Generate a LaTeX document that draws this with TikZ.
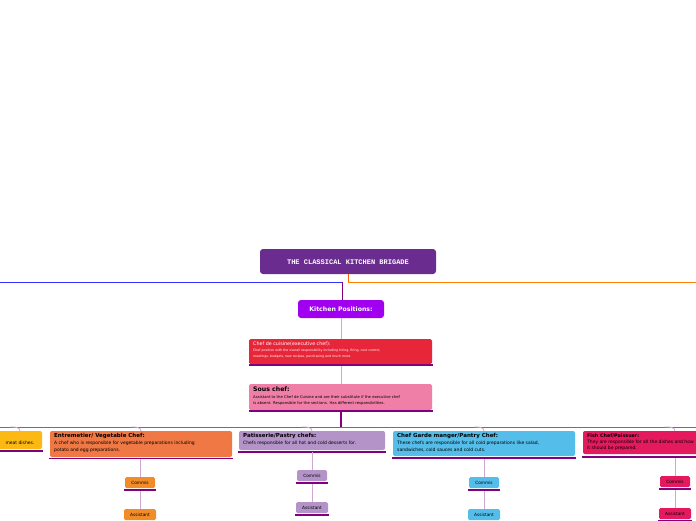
\documentclass[tikz,border=0pt]{standalone}
\usepackage{fontspec}
\setmainfont{DejaVu Sans}
\newfontfamily\ttf{Liberation Mono}
\begin{document}
\begin{tikzpicture}[x=1pt,y=-1pt,
 bx/.style={draw=none,rounded corners=2pt,anchor=north west,inner sep=0pt},
 con/.style={draw=violet!35,line width=0.8pt},
 ul/.style={draw=violet,line width=1.6pt}]
\definecolor{ttl}{HTML}{6A2C8E}\definecolor{kp}{HTML}{A100F0}
\definecolor{cdc}{HTML}{E8263A}\definecolor{sou}{HTML}{F07FA8}
\definecolor{yel}{HTML}{FDB913}\definecolor{ent}{HTML}{F07844}
\definecolor{pat}{HTML}{B393C8}\definecolor{gar}{HTML}{55BDEA}
\definecolor{fis}{HTML}{E5195E}\definecolor{com}{HTML}{F28C28}
\useasboundingbox (0,0) rectangle (696,520);
\fill[white] (0,0) rectangle (696,520);
% title
\fill[ttl,rounded corners=3pt] (260,249) rectangle (436,274);
\node[text=white,font=\ttf\bfseries\fontsize{7}{8}\selectfont] (t) at (348,262) {THE CLASSICAL KITCHEN BRIGADE};
\draw[blue!80,line width=0.8pt] (0,282) -- (342,282);
\draw[orange,line width=0.8pt] (348,282) -- (696,282);
\draw[orange!80!red,line width=0.8pt] (348,274) -- (348,282);
\draw[violet,line width=0.8pt] (342,282) -- (342,300);
% kitchen positions
\fill[kp,rounded corners=3pt] (298,300) rectangle (384,318);
\node[text=white,font=\bfseries\fontsize{6.2}{7}\selectfont] (kp) at (341,309) {Kitchen Positions:};
\draw[con] (341,318) -- (341,339);
% chef de cuisine
\fill[cdc,rounded corners=1.5pt] (249,339) rectangle (432,364);
\draw[ul] (249,365) -- (433,365);
\node[bx,text=white,font=\fontsize{4.8}{5.5}\selectfont,align=left] (cdc) at (253,342) {Chef de cuisine(executive chef):};
\node[bx,text=white,font=\fontsize{3.2}{6.5}\selectfont,align=left] at (253,348.5) {Chef position with the overall responsibility including hiring, firing, cost control,\\meetings, budgets, new recipes, purchasing and much more.};
\draw[con] (341,366) -- (341,384);
% sous chef
\fill[sou,rounded corners=1.5pt] (249,384) rectangle (432,410);
\draw[ul] (249,411) -- (433,411);
\node[bx,font=\bfseries\fontsize{6.2}{7}\selectfont] (sc) at (253,386.5) {Sous chef:};
\node[bx,font=\fontsize{3.8}{6}\selectfont,align=left] at (253,395.5) {Assistant to the Chef de Cuisine and are their substitute if the executive chef\\is absent. Responsible for the sections. Has different responsibilities.};
\draw[violet,line width=1.2pt] (341,412) -- (341,427);
\draw[violet!70,line width=0.8pt] (0,427) -- (696,427);
% branch curves
\foreach \x in {20,141,312,484,675}{\draw[con] (\x-10,427) to[out=0,in=90] (\x,431);}
% yellow
\fill[yel,rounded corners=2pt] (-5,431) rectangle (42,449);
\draw[ul] (0,451) -- (43,451);
\node[font=\fontsize{4.5}{5}\selectfont,anchor=east] (y) at (38,443) {meat dishes.};
% entremetier
\fill[ent,rounded corners=2pt] (50,431) rectangle (232,457);
\draw[ul] (49,458.5) -- (233,458.5);
\node[bx,font=\bfseries\fontsize{5.5}{6}\selectfont] (en) at (54,433) {Entremetier/ Vegetable Chef:};
\node[bx,font=\fontsize{4.5}{7}\selectfont,align=left] at (54,440.5) {A chef who is responsible for vegetable preparations including\\potato and egg preparations.};
% patisserie
\fill[pat,rounded corners=2pt] (239,431) rectangle (385,450);
\draw[ul] (238,452) -- (386,452);
\node[bx,font=\bfseries\fontsize{5.5}{6}\selectfont] (pa) at (243,433) {Patisserie/Pastry chefs:};
\node[bx,font=\fontsize{4.5}{6}\selectfont] at (243,441) {Chefs responsible for all hot and cold desserts for.};
% garde
\fill[gar,rounded corners=2pt] (393,431) rectangle (575,456);
\draw[ul] (392,458) -- (576,458);
\node[bx,font=\bfseries\fontsize{5.5}{6}\selectfont] (ga) at (397,433) {Chef Garde manger/Pantry Chef:};
\node[bx,font=\fontsize{4.5}{7}\selectfont,align=left] at (397,440.5) {These chefs are responsible for all cold preparations like salad,\\sandwiches, cold sauces and cold cuts.};
% fish
\fill[fis,rounded corners=2pt] (583,431) rectangle (700,454);
\draw[ul] (582,457) -- (700,457);
\node[bx,font=\bfseries\fontsize{4.8}{6}\selectfont] (fi) at (587,434) {Fish Chef/Poissuer:};
\node[bx,font=\fontsize{4.5}{6.5}\selectfont,align=left] at (587,439.5) {They are responsible for all the dishes and how\\it should be prepared.};
% commis/assistant
\foreach \cx/\ya/\yb/\cc in {140/477/509/com,312/470/502/pat,484/477/509/gar,675/476/508/fis}{
 \draw[con] (\cx,\ya-18) -- (\cx,\ya);
 \fill[\cc,rounded corners=1.5pt] (\cx-15,\ya) rectangle (\cx+15,\ya+11);
 \node[font=\fontsize{4.3}{5}\selectfont] at (\cx,\ya+5.5) {Commis};
 \draw[ul] (\cx-16,\ya+13) -- (\cx+16,\ya+13);
 \draw[con] (\cx,\ya+14) -- (\cx,\yb);
 \fill[\cc,rounded corners=1.5pt] (\cx-16,\yb) rectangle (\cx+16,\yb+11);
 \node[font=\fontsize{4.3}{5}\selectfont] at (\cx,\yb+5.5) {Assistant};
 \draw[ul] (\cx-17,\yb+13) -- (\cx+17,\yb+13);
}
\end{tikzpicture}
\end{document}
